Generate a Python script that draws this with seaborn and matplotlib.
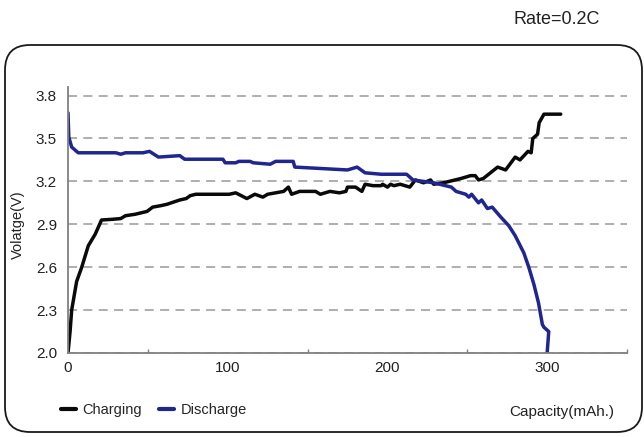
import matplotlib
matplotlib.use("Agg")
import matplotlib.pyplot as plt
import matplotlib.patches as mpatches
from matplotlib.transforms import IdentityTransform
from matplotlib.ticker import FixedLocator
import seaborn as sns
import pandas as pd

# --- data ---
charge_cap = [0, 1.3, 2.3, 5.4, 8.6, 12.7, 17, 21, 28, 33, 36, 42, 49.5, 53, 58, 62, 70, 74, 76.5,
              80, 90, 101, 105, 112, 117, 122, 125, 135, 138, 140, 145, 155, 158, 164, 170, 174, 175, 180, 184,
              186, 191, 196, 197, 200, 202, 204, 208, 214, 217.5, 222.6, 227, 229, 235, 246, 252, 255, 257, 260, 269,
              274, 280, 283, 288, 290, 291, 294, 295, 298, 308.5]
charge_v = [2.0, 2.15, 2.3, 2.5, 2.6, 2.75, 2.83, 2.93, 2.935, 2.94, 2.96, 2.97, 2.99, 3.02, 3.03, 3.04, 3.07, 3.08, 3.10,
            3.11, 3.11, 3.11, 3.12, 3.08, 3.11, 3.09, 3.11, 3.13, 3.16, 3.11, 3.13, 3.13, 3.11, 3.13, 3.12, 3.13, 3.16, 3.16, 3.13,
            3.18, 3.17, 3.17, 3.18, 3.16, 3.18, 3.17, 3.18, 3.16, 3.21, 3.19, 3.21, 3.18, 3.19, 3.22, 3.24, 3.24, 3.21, 3.22, 3.30,
            3.28, 3.37, 3.35, 3.41, 3.40, 3.50, 3.53, 3.61, 3.67, 3.67]

dis_cap = [0, 0.5, 2.3, 6.4, 30, 33, 36, 47, 51, 56.6, 70, 73, 97, 98.4, 105, 107, 114, 116, 126.6, 130,
           141, 142, 175, 181, 186, 196, 212, 216, 229, 240, 243, 249, 251, 252.7, 257, 259, 262.6, 265.6, 271, 276,
           280, 285.4, 288.5, 291.7, 294.6, 297, 298, 301, 300]
dis_v = [3.68, 3.51, 3.44, 3.40, 3.40, 3.39, 3.40, 3.40, 3.41, 3.37, 3.38, 3.355, 3.355, 3.33, 3.33, 3.34, 3.34, 3.33, 3.32, 3.34,
         3.34, 3.30, 3.28, 3.30, 3.26, 3.25, 3.25, 3.21, 3.19, 3.16, 3.13, 3.11, 3.09, 3.11, 3.05, 3.07, 3.01, 3.02, 2.95, 2.89,
         2.82, 2.70, 2.60, 2.48, 2.35, 2.20, 2.18, 2.15, 2.0]

series_names = ["Charging", "Discharge"]
y_ticks = [2.0, 2.3, 2.6, 2.9, 3.2, 3.5, 3.8]
x_labels = [0, 100, 200, 300]

df = pd.concat([
    pd.DataFrame({"cap": charge_cap, "v": charge_v, "mode": series_names[0]}),
    pd.DataFrame({"cap": dis_cap, "v": dis_v, "mode": series_names[1]}),
], ignore_index=True)

sns.set_style("white")
plt.rcParams["font.family"] = ["Liberation Sans", "DejaVu Sans"]

fig = plt.figure(figsize=(6.44, 4.37), dpi=100)
ax = fig.add_axes([68 / 644, 1 - 353 / 437, (627 - 68) / 644, 266 / 437])

sns.lineplot(data=df, x="cap", y="v", hue="mode", hue_order=series_names,
             palette={"Charging": "#0a0a0a", "Discharge": "#1f2690"},
             estimator=None, sort=False, linewidth=2.5, ax=ax, legend=True)

ax.set_xlim(0, 350)
ax.set_ylim(2.0, 3.86)
ax.set_yticks(y_ticks)
ax.set_yticklabels([f"{t:.1f}" for t in y_ticks])
ax.set_xticks(x_labels)
ax.xaxis.set_minor_locator(FixedLocator([50, 150, 250, 350]))
ax.tick_params(axis="x", which="major", length=0, labelsize=11, pad=6, colors="#222222")
ax.tick_params(axis="x", which="minor", direction="in", length=3, width=1, color="#808080", bottom=True)
ax.tick_params(axis="y", length=0, labelsize=11, pad=8, colors="#222222")
ax.yaxis.grid(True, color="#a8a8a8", linestyle=(0, (5, 3.5)), linewidth=1.3)
ax.set_axisbelow(True)
for s in ["top", "right"]:
    ax.spines[s].set_visible(False)
for s in ["left", "bottom"]:
    ax.spines[s].set_color("#808080")
    ax.spines[s].set_linewidth(1.3)
ax.set_xlabel("")
ax.set_ylabel("")

handles, labels = ax.get_legend_handles_labels()
for h in handles:
    h.set_linewidth(3)
ax.get_legend().remove()
fig.legend(handles, labels, loc="center left", bbox_to_anchor=(61 / 644, 1 - 410 / 437),
           ncol=2, frameon=False, fontsize=10.5, handlelength=1.0, handletextpad=0.45,
           columnspacing=1.2, borderaxespad=0, borderpad=0)

fig.text(18 / 644, 1 - 225 / 437, "Volatge(V)", rotation=90, ha="center", va="center",
         fontsize=10.5, color="#222222")
fig.text(562 / 644, 1 - 412 / 437, "Capacity(mAh.)", ha="center", va="center",
         fontsize=11, color="#222222")
fig.text(557 / 644, 1 - 20 / 437, "Rate=0.2C", ha="center", va="center",
         fontsize=13, color="#222222")

frame = mpatches.FancyBboxPatch((5, 5), 637, 387, boxstyle="round,pad=0,rounding_size=25",
                                transform=IdentityTransform(), facecolor="none",
                                edgecolor="#1a1a1a", linewidth=1.3)
fig.add_artist(frame)

fig.savefig("out.png", dpi=100)
